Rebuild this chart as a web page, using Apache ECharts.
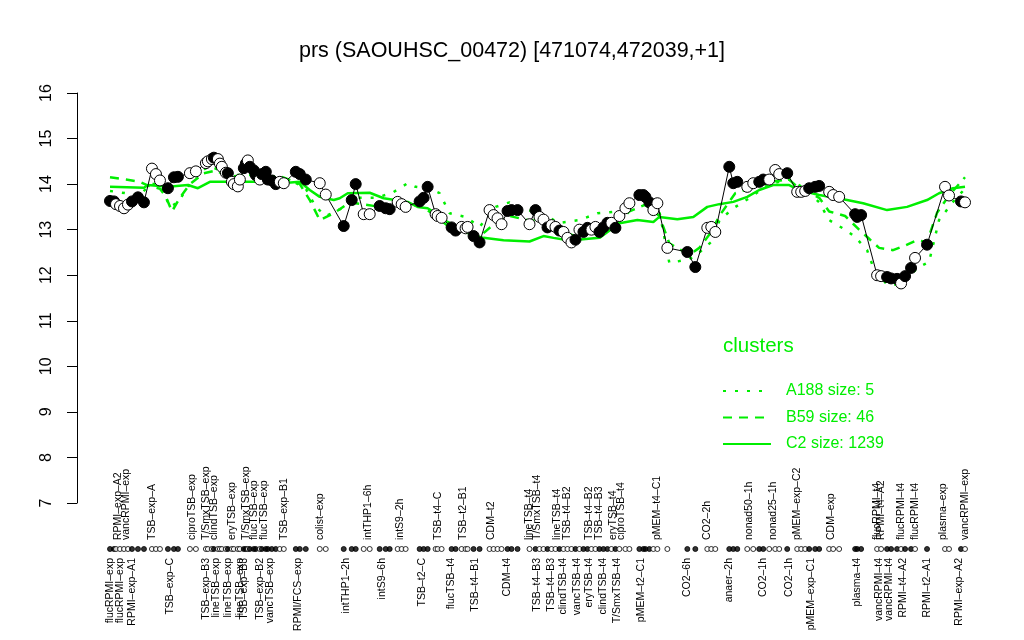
<!DOCTYPE html>
<html><head><meta charset="utf-8">
<script src="https://cdn.jsdelivr.net/npm/echarts@6/dist/echarts.min.js"></script>
<style>html,body{margin:0;padding:0;background:#fff}#c{width:1024px;height:640px}</style>
</head><body><div id="c"></div>
<script>
// ---- data ----
const titleText = 'prs (SAOUHSC_00472) [471074,472039,+1]';
const nSlots = 429;
const samplePos = [0,2,3,5,7,9,11,14,17, 21,23,25, 29,32,34, 40,43,
  48,49,51,52,54,55,56,58,59,61,62,64,65,67,68,69,70,72,73,75,76,78,79,81,83,85,87,
  93,95,98, 105,108, 117,121,123, 127,130, 135,138,140, 144,146,148, 155,157,159, 163,164,166,
  171,173, 176,178,179, 182,185, 190,192,194,196, 199,201,204, 210,
  213,215,217,219,221,223,225,227,229,231,233,235,237,239,241,243,245,247,249,251,253,255,258,260,
  265,267,268,270,272,274, 279, 289,293, 299,301,303, 310,312,314,
  319,322,325,327,330,333,335,339, 344,346,348,350,353,355, 360,362,365, 373,374,376,
  384,386,389,391,394,396,398,401,403, 409, 418,420, 426,428];
const sampleVal = [13.63,13.62,13.56,13.52,13.47,13.55,13.62,13.71,13.60, 14.34,14.22,14.08, 13.91,14.15,14.16, 14.24,14.28,
  14.46,14.50,14.55,14.58,14.55,14.45,14.38,14.25,14.24,14.05,14.00,13.95,14.10,14.35,14.45,14.52,14.38,14.30,14.20,14.10,14.22,14.27,14.10,14.08,14.00,14.05,14.02,
  14.27,14.22,14.10, 14.02,13.77, 13.08,13.65,14.00, 13.34,13.34, 13.52,13.47,13.45, 13.61,13.56,13.50, 13.62,13.70,13.94, 13.34,13.30,13.26,
  13.05,12.98, 13.06,13.03,13.06, 12.86,12.72, 13.43,13.32,13.25,13.12, 13.41,13.43,13.43, 13.12,
  13.43,13.28,13.22,13.05,13.10,13.06,12.98,12.95,12.82,12.72,12.78,13.00,12.95,13.04,13.00,13.06,12.95,13.05,13.15,13.15,13.04,13.30,13.47,13.58,
  13.76,13.76,13.72,13.60,13.43,13.58, 12.60, 12.51,12.18, 13.04,13.06,12.95, 14.38,14.02,14.05,
  13.94,14.02,14.05,14.10,14.10,14.31,14.22,14.24, 13.83,13.83,13.85,13.91,13.94,13.96, 13.83,13.76,13.72, 13.34,13.28,13.32,
  12.00,11.98,11.96,11.93,11.92,11.82,11.98,12.16,12.38, 12.67, 13.94,13.75, 13.62,13.60];
const sampleFilled = [1,1,0,0,0,0,1,1,1, 0,0,0, 1,1,1, 0,0,
  0,0,0,1,0,0,0,0,1,0,0,0,0,1,1,0,1,1,1,0,1,1,1,1,1,0,0,
  1,1,1, 0,0, 1,1,1, 0,0, 1,1,1, 0,0,0, 1,1,1, 0,0,0,
  1,1, 0,0,0, 1,1, 0,0,0,0, 1,1,1, 0,
  1,0,0,1,0,0,1,0,0,0,1,0,1,1,0,0,1,1,1,0,1,0,0,0,
  1,1,1,1,0,0, 0, 1,1, 0,0,0, 1,1,1,
  0,0,1,1,0,0,0,1, 0,0,0,1,1,1, 0,0,0, 1,1,1,
  0,0,1,1,1,0,1,1,0, 1, 0,0, 1,0];

const upperLabelPos = [4,8,21,41,48,52,61,68,72,77,87,105,129,145,164,177,191,210,214,224,229,240,245,252,256,274,299,320,332,344,361,384,386,396,403,417,428];
const upperLabelText = ['RPMI\u2013exp\u2013A2','vancRPMI\u2013exp','TSB\u2013exp\u2013A','ciproTSB\u2013exp','T/SmxTSB\u2013exp','clindTSB\u2013exp','eryTSB\u2013exp','T/SmxTSB\u2013exp','flucTSB\u2013exp','flucTSB\u2013exp','TSB\u2013exp\u2013B1','colist\u2013exp',
  'intTHP1\u20136h','intS9\u20132h','TSB\u2013t4\u2013C','TSB\u2013t2\u2013B1','CDM\u2013t2','lineTSB\u2013t4','T/SmxTSB\u2013t4','lineTSB\u2013t4','TSB\u2013t4\u2013B2','TSB\u2013t4\u2013B2','TSB\u2013t4\u2013B3','eryTSB\u2013t4','ciproTSB\u2013t4',
  'pMEM\u2013t4\u2013C1','CO2\u20132h','nonad50\u20131h','nonad25\u20131h','pMEM\u2013exp\u2013C2','CDM\u2013exp','flucRPMI\u2013t4','RPMI\u2013t4\u2013A2','flucRPMI\u2013t4','flucRPMI\u2013t4','plasma\u2013exp','vancRPMI\u2013exp'];
const lowerLabelPos = [0,5,11,30,48,53,59,65,67,75,80,94,118,136,156,171,183,199,214,221,227,234,240,247,254,266,289,310,327,340,351,374,385,390,397,409,425];
const lowerLabelText = ['flucRPMI\u2013exp','flucRPMI\u2013exp','RPMI\u2013exp\u2013A1','TSB\u2013exp\u2013C','TSB\u2013exp\u2013B3','lineTSB\u2013exp','lineTSB\u2013exp','lineTSB\u2013exp','TSB\u2013exp\u2013B3','TSB\u2013exp\u2013B2','vancTSB\u2013exp','RPMI/FCS\u2013exp',
  'intTHP1\u20132h','intS9\u20136h','TSB\u2013t2\u2013C','flucTSB\u2013t4','TSB\u2013t4\u2013B1','CDM\u2013t4','TSB\u2013t4\u2013B3','TSB\u2013t4\u2013B3','clindTSB\u2013t4','vancTSB\u2013t4','eryTSB\u2013t4','clindTSB\u2013t4','T/SmxTSB\u2013t4',
  'pMEM\u2013t2\u2013C1','CO2\u20136h','anaer\u20132h','CO2\u20131h','CO2\u20131h','pMEM\u2013exp\u2013C1','plasma\u2013t4','vancRPMI\u2013t4','vancRPMI\u2013t4','RPMI\u2013t4\u2013A2','RPMI\u2013t2\u2013A1','RPMI\u2013exp\u2013A2'];

const c2Pos = [0,17,19,29,39,44,50,62,74,89,95,100,105,112,115,119,130,137,149,154,159,162,169,177,182,187,197,210,217,222,230,245,255,264,272,275,284,292,299,305,312,319,325,332,340,345,355,369,377,389,399,409,415,422,428];
const c2Val = [13.94,13.92,13.98,13.94,13.98,13.91,14.05,14.05,14.05,14.03,14.05,13.87,13.72,13.65,13.69,13.80,13.81,13.69,13.61,13.50,13.47,13.39,13.17,12.96,12.88,12.82,12.77,12.74,12.86,12.82,12.76,12.82,13.14,13.21,13.17,13.28,13.23,13.28,13.50,13.56,13.61,13.72,13.87,13.98,13.98,13.87,13.76,13.65,13.58,13.43,13.50,13.65,13.80,13.91,13.94];
const b59Pos = [0,8,15,20,25,28,31,35,40,47,53,59,70,86,95,100,105,112,115,120,128,135,145,155,163,170,178,185,193,200,210,218,225,233,243,253,260,268,275,280,290,295,301,305,313,320,330,340,345,355,360,368,375,380,385,392,398,404,409,414,420,428];
const b59Val = [14.15,14.10,14.05,13.95,13.90,13.72,13.40,13.70,14.00,14.24,14.30,14.16,14.20,14.16,14.00,13.65,13.21,13.36,13.45,13.60,13.55,13.50,13.50,13.55,13.30,13.05,12.95,12.85,13.15,13.30,13.20,13.20,13.00,12.85,13.00,13.10,13.40,13.55,13.30,12.70,12.45,12.60,12.95,13.30,13.80,13.90,14.05,14.10,13.90,13.70,13.40,13.30,13.00,12.80,12.60,12.55,12.65,12.77,12.73,13.37,13.75,14.15];
const a188Pos = [0,8,15,20,25,30,34,40,44,50,60,75,90,98,103,108,113,116,123,133,141,149,153,160,165,170,178,185,193,200,208,218,225,235,244,252,260,268,275,280,290,295,302,305,312,320,330,340,348,355,360,368,373,379,382,389,395,405,410,415,422,428];
const a188Val = [13.85,13.80,13.75,14.00,14.00,13.50,13.60,14.00,14.24,14.40,14.20,14.20,14.10,13.90,13.50,13.30,13.40,13.47,13.70,13.70,13.80,14.02,13.94,13.90,13.80,13.36,13.28,13.06,13.50,13.60,13.45,13.30,13.15,13.21,13.36,13.39,13.50,13.70,13.40,12.27,12.35,12.50,12.77,13.20,13.47,13.69,14.00,14.10,13.90,13.60,13.21,13.00,12.84,12.55,12.18,11.79,11.80,12.18,12.29,13.21,13.61,13.90];

const clusterNames = ['A188 size: 5','B59 size: 46','C2 size: 1239'];
const yMin = 7, yMax = 16;

// ---- build ----
const FONT = 'Liberation Sans, Arial, sans-serif';
const GREEN = '#00ee00';
const cats = Array.from({length: nSlots}, (_, i) => String(i));
function place(pos, vals) {
  const a = new Array(nSlots).fill(null);
  pos.forEach((p, i) => { a[p] = vals[i]; });
  return a;
}
function pointItems(valueFn) {
  const a = new Array(nSlots).fill(null);
  samplePos.forEach((p, i) => {
    a[p] = { value: valueFn(i), itemStyle: { color: sampleFilled[i] ? '#000' : '#fff', borderColor: '#000', borderWidth: 1 } };
  });
  return a;
}
const upperCats = new Array(nSlots).fill('');
upperLabelPos.forEach((p, i) => { upperCats[p] = upperLabelText[i]; });
const lowerCats = new Array(nSlots).fill('');
lowerLabelPos.forEach((p, i) => { lowerCats[p] = lowerLabelText[i]; });

const L = 110, R = 59;
const chart = echarts.init(document.getElementById('c'), null, { renderer: 'canvas' });
const lbl = { interval: 0, rotate: 90, fontSize: 10.5, color: '#000', fontFamily: FONT, margin: 4 };
chart.setOption({
  animation: false,
  backgroundColor: '#fff',
  title: [
    { text: titleText, left: 'center', top: 35, textStyle: { fontSize: 21.5, fontWeight: 'normal', color: '#000', fontFamily: FONT } },
    { text: 'clusters', left: 718, top: 331, textStyle: { fontSize: 20.5, fontWeight: 'normal', color: GREEN, fontFamily: FONT } }
  ],
  legend: {
    data: clusterNames, orient: 'vertical', left: 722, top: 383, padding: 0,
    itemWidth: 48, itemHeight: 14, itemGap: 10.5,
    itemStyle: { opacity: 0 },
    textStyle: { color: GREEN, fontSize: 16, fontFamily: FONT, padding: [0, 0, 0, 10] },
    selectedMode: false
  },
  grid: [
    { left: L, right: R, top: 93, bottom: 137 },
    { left: L, right: R, top: 544, height: 10 }
  ],
  xAxis: [
    { type: 'category', data: cats, gridIndex: 0, boundaryGap: false, show: false },
    { type: 'category', data: upperCats, gridIndex: 1, position: 'top', boundaryGap: false,
      axisLine: { show: false }, axisTick: { show: false }, axisLabel: lbl },
    { type: 'category', data: lowerCats, gridIndex: 1, position: 'bottom', boundaryGap: false,
      axisLine: { show: false }, axisTick: { show: false }, axisLabel: lbl }
  ],
  yAxis: [
    { type: 'value', gridIndex: 0, min: yMin, max: yMax, interval: 1, offset: 33,
      axisLine: { show: true, lineStyle: { color: '#000', width: 1 } },
      axisTick: { show: true, length: 10, lineStyle: { color: '#000' } },
      splitLine: { show: false },
      axisLabel: { rotate: 90, fontSize: 16, color: '#000', fontFamily: FONT, margin: 22 } },
    { type: 'value', gridIndex: 1, min: -1, max: 1, show: false }
  ],
  series: [
    { name: clusterNames[2], type: 'line', xAxisIndex: 0, yAxisIndex: 0, data: place(c2Pos, c2Val), connectNulls: true,
      symbol: 'none', lineStyle: { color: GREEN, width: 2.5, type: 'solid' }, itemStyle: { color: GREEN }, z: 2 },
    { name: clusterNames[1], type: 'line', xAxisIndex: 0, yAxisIndex: 0, data: place(b59Pos, b59Val), connectNulls: true,
      symbol: 'none', lineStyle: { color: GREEN, width: 2.5, type: [9, 7] }, itemStyle: { color: GREEN }, z: 2 },
    { name: clusterNames[0], type: 'line', xAxisIndex: 0, yAxisIndex: 0, data: place(a188Pos, a188Val), connectNulls: true,
      symbol: 'none', lineStyle: { color: GREEN, width: 2.5, type: [3, 9] }, itemStyle: { color: GREEN }, z: 2 },
    { name: 'expr', type: 'line', xAxisIndex: 0, yAxisIndex: 0, data: pointItems(i => sampleVal[i]), connectNulls: true,
      symbol: 'circle', symbolSize: 11, showAllSymbol: true, lineStyle: { color: '#000', width: 1 }, z: 3 },
    { name: 'dots', type: 'scatter', xAxisIndex: 1, yAxisIndex: 1, data: pointItems(() => 0),
      symbol: 'circle', symbolSize: 5, z: 3 }
  ]
});
</script></body></html>
